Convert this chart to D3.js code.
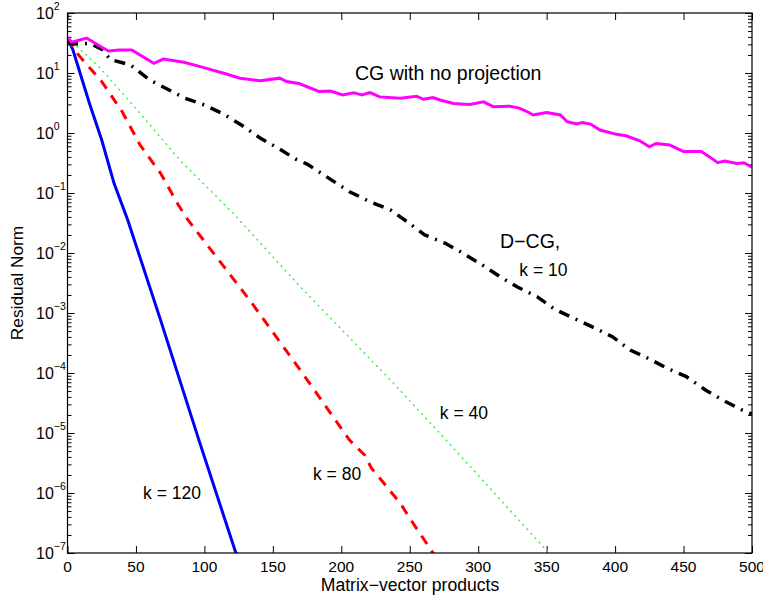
<!DOCTYPE html>
<html>
<head>
<meta charset="utf-8">
<script src="https://cdn.jsdelivr.net/npm/d3@7"></script>
<style>
  body { margin: 0; background: #fff; }
  svg text { font-family: "Liberation Sans", Arial, Helvetica, sans-serif; fill: #000; }
</style>
</head>
<body>
<svg width="763" height="598"></svg>
<script>
// residual norm vs matrix-vector products
var cgNoProj = [[0,39.4],[3,32.5],[14,38.3],[25,26.8],[30,23.3],[38,24.2],[47,24.2],[53,20],[63,14.5],[70,17.1],
  [85,15.1],[99,12.4],[116,9.6],[126,8.2],[141,7.4],[155,8.2],[160,7.2],[169,6.7],[175,5.9],[184,4.9],[192,5.0],
  [201,4.3],[209,4.7],[215,4.3],[221,4.7],[228,4.0],[243,3.8],[255,4.1],[260,3.65],[267,3.9],[272,3.55],[282,3.1],
  [294,3.0],[304,3.3],[311,2.75],[323,2.8],[330,2.6],[337,2.2],[340,2.0],[350,2.2],[360,2.0],[365,1.54],[372,1.41],
  [376,1.5],[382,1.41],[389,1.12],[401,0.95],[408,0.9],[418,0.74],[425,0.59],[430,0.67],[440,0.63],[450,0.49],
  [463,0.49],[469,0.40],[475,0.32],[480,0.34],[489,0.31],[494,0.32],[500,0.27]];

var dcgK10 = [[0,33.3],[4,30.4],[16,31.3],[26,24.2],[31,16.9],[46,13.6],[60,7.64],[71,5.69],[86,3.79],[100,2.93],
  [114,2.07],[127,1.36],[141,0.816],[154,0.556],[167,0.364],[175,0.304],[206,0.105],[221,0.0716],[236,0.052],
  [248,0.0333],[261,0.02],[276,0.0145],[289,0.00989],[303,0.0063],[316,0.00403],[329,0.00268],[343,0.00187],
  [356,0.00115],[370,8.16e-4],[383,5.92e-4],[398,4.03e-4],[411,2.42e-4],[424,1.76e-4],[438,1.2e-4],[452,8.7e-5],
  [466,5.2e-5],[479,3.5e-5],[493,2.4e-5],[500,2.07e-5]];

var dcgK40 = [[0,38],[10,24],[24,12],[53,2.13],[82,0.355],[121,0.0459],[170,0.00274],[236,7.6e-5],[272,9.9e-6],
  [350,1.1e-7],[352,9e-8]];

var dcgK80 = [[0,38],[8,20],[25,7.2],[40,2.26],[53,0.63],[68,0.213],[81,0.063],[88,0.0355],[133,1.65e-3],
  [170,1.12e-4],[206,7.6e-6],[217,4.3e-6],[222,2.6e-6],[243,6.8e-7],[250,3.8e-7],[267,1e-7],[268,9e-8]];

var dcgK120 = [[0,38],[4,24.2],[16,3.13],[25,0.764],[34,0.145],[44,0.0355],[68,7.6e-4],[96,7.6e-6],[123,1e-7],[124,9e-8]];

var xTicks = [0, 50, 100, 150, 200, 250, 300, 350, 400, 450, 500];
var yExponents = [2, 1, 0, -1, -2, -3, -4, -5, -6, -7];

var annotations = [
  { text: "CG with no projection", x: 210, y: 7.6 },
  { text: "D\u2212CG,", x: 316, y: 0.0121 },
  { text: "k = 10", x: 330, y: 0.00414 },
  { text: "k = 40", x: 272, y: 1.71e-5 },
  { text: "k = 80", x: 179.3, y: 1.65e-6 },
  { text: "k = 120", x: 55.2, y: 7.9e-7 }
];

(function () {
  var pLeft = 67.5, pRight = 752, pTop = 13, pBottom = 553;

  var svg = d3.select("svg");
  var x = d3.scaleLinear().domain([0, 500]).range([pLeft, pRight]);
  var y = d3.scaleLog().domain([1e-7, 1e2]).range([pBottom, pTop]);

  svg.append("clipPath").attr("id", "plotclip")
    .append("rect").attr("x", pLeft).attr("y", pTop)
    .attr("width", pRight - pLeft).attr("height", pBottom - pTop);

  // minor log ticks
  var minor = [];
  yExponents.slice(1).forEach(function (e) {
    for (var m = 2; m <= 9; m++) minor.push(m * Math.pow(10, e));
  });

  function strip(g) {
    g.select(".domain").remove();
    g.selectAll(".tick line").attr("stroke", "#000").attr("stroke-width", 1);
  }

  svg.append("g").attr("transform", "translate(0," + pBottom + ")")
    .call(d3.axisBottom(x).tickValues(xTicks).tickSize(-7).tickFormat(""))
    .call(strip);
  svg.append("g").attr("transform", "translate(0," + pTop + ")")
    .call(d3.axisTop(x).tickValues(xTicks).tickSize(-7).tickFormat(""))
    .call(strip);

  var decades = yExponents.map(function (e) { return Math.pow(10, e); });
  svg.append("g").attr("transform", "translate(" + pLeft + ",0)")
    .call(d3.axisLeft(y).tickValues(decades).tickSize(-7).tickFormat(""))
    .call(strip);
  svg.append("g").attr("transform", "translate(" + pLeft + ",0)")
    .call(d3.axisLeft(y).tickValues(minor).tickSize(-4).tickFormat(""))
    .call(strip);
  svg.append("g").attr("transform", "translate(" + pRight + ",0)")
    .call(d3.axisRight(y).tickValues(decades).tickSize(-7).tickFormat(""))
    .call(strip);
  svg.append("g").attr("transform", "translate(" + pRight + ",0)")
    .call(d3.axisRight(y).tickValues(minor).tickSize(-4).tickFormat(""))
    .call(strip);

  // x tick labels
  svg.append("g").selectAll("text").data(xTicks).enter().append("text")
    .attr("x", d => x(d)).attr("y", pBottom + 19)
    .attr("text-anchor", "middle").style("font-size", "15.5px")
    .text(d => d);

  // y tick labels: 10^e
  var yl = svg.append("g").selectAll("text").data(yExponents).enter().append("text")
    .attr("x", 36).attr("y", d => y(Math.pow(10, d)) + 5.7)
    .style("font-size", "16px");
  yl.append("tspan").text("10");
  yl.append("tspan").attr("dy", -8.4).style("font-size", "10.5px")
    .text(d => d < 0 ? "\u2212" + (-d) : String(d));

  // lines
  var line = d3.line().x(d => x(d[0])).y(d => y(d[1]));
  var plot = svg.append("g").attr("clip-path", "url(#plotclip)");

  plot.append("path").datum(dcgK120).attr("d", line)
    .attr("fill", "none").attr("stroke", "#0000ff").attr("stroke-width", 3);
  plot.append("path").datum(dcgK80).attr("d", line)
    .attr("fill", "none").attr("stroke", "#ff0000").attr("stroke-width", 3)
    .attr("stroke-dasharray", "10,8");
  plot.append("path").datum(dcgK40).attr("d", line)
    .attr("fill", "none").attr("stroke", "#33ee33").attr("stroke-width", 1.4)
    .attr("stroke-dasharray", "2,4");
  plot.append("path").datum(dcgK10).attr("d", line)
    .attr("fill", "none").attr("stroke", "#000").attr("stroke-width", 3.5)
    .attr("stroke-dasharray", "11,7,2,7");
  plot.append("path").datum(cgNoProj).attr("d", line)
    .attr("fill", "none").attr("stroke", "#ff00ff").attr("stroke-width", 3);

  // frame
  svg.append("rect").attr("x", pLeft).attr("y", pTop)
    .attr("width", pRight - pLeft).attr("height", pBottom - pTop)
    .attr("fill", "none").attr("stroke", "#000").attr("stroke-width", 1.2);

  // annotations (the labels with capitals are set a bit larger, as in the figure)
  svg.append("g").selectAll("text").data(annotations).enter().append("text")
    .attr("x", d => x(d.x)).attr("y", d => y(d.y))
    .style("font-size", d => d.text.charAt(0) === "k" ? "17.5px" : "19.5px")
    .text(d => d.text);

  // axis titles
  svg.append("text").attr("x", 410).attr("y", 591)
    .attr("text-anchor", "middle").style("font-size", "17.6px")
    .text("Matrix\u2212vector products");
  svg.append("text").attr("transform", "translate(23,283) rotate(-90)")
    .attr("text-anchor", "middle").style("font-size", "17.3px")
    .text("Residual Norm");
})();
</script>
</body>
</html>
